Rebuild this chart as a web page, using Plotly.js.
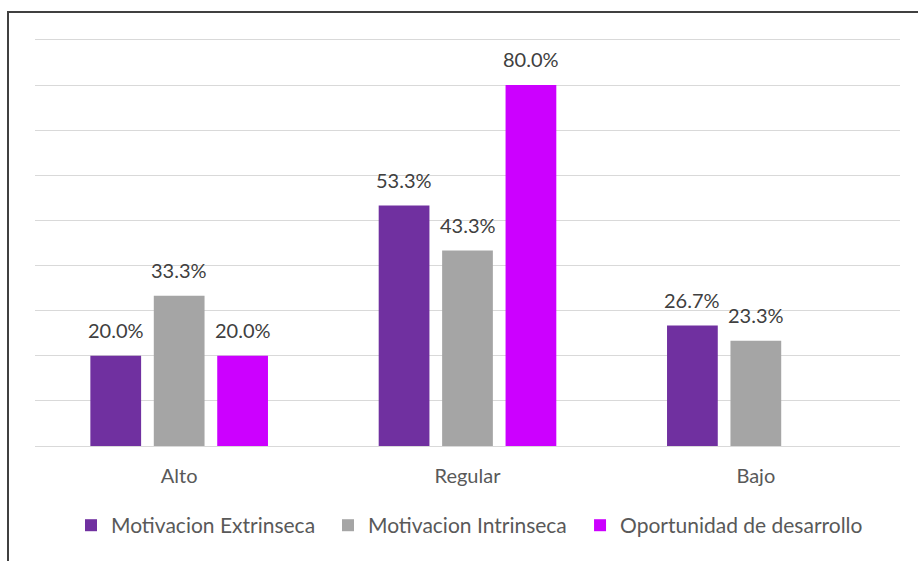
<!DOCTYPE html>
<html>
<head>
<meta charset="utf-8">
<script src="https://cdn.plot.ly/plotly-3.0.1.min.js"></script>
<style>
html,body{margin:0;padding:0;background:#fff;}
#wrap{position:relative;width:918px;height:561px;overflow:hidden;}
#chart{position:absolute;left:0;top:0;width:918px;height:561px;}
#frame{position:absolute;left:7px;top:11px;width:940px;height:600px;border-left:2px solid #404040;border-top:2px solid #404040;pointer-events:none;}
</style>
</head>
<body>
<div id="wrap"><div id="chart"></div><div id="frame"></div></div>
<script>
const categories = ["Alto", "Regular", "Bajo"];
const seriesNames = ["Motivacion Extrinseca", "Motivacion Intrinseca", "Oportunidad de desarrollo"];
const extrinseca = [20.0, 53.3, 26.7];
const intrinseca = [33.3, 43.3, 23.3];
const oportunidad = [20.0, 80.0, null];
const colors = ["#7030A0", "#A5A5A5", "#CC00FF"];

const FONT = "'Lato', sans-serif";
const W = 918, H = 561;
const M = {l: 35, r: 18, t: 38, b: 115};
const BARGAP = 0.34;
const values = [extrinseca, intrinseca, oportunidad];
const legendIds = ["legend", "legend2", "legend3"];
const legendX = [0.0416, 0.3387, 0.6301];

const traces = values.map((v, i) => ({
  type: "bar",
  name: seriesNames[i],
  x: categories,
  y: v,
  marker: {color: colors[i]},
  legend: legendIds[i],
  hoverinfo: "skip"
}));

// data labels as annotations placed over each bar (offset within group)
const catWidthPx = (W - M.l - M.r) / categories.length;
const slotPx = catWidthPx * (1 - BARGAP) / values.length;
const annotations = [];
values.forEach((v, i) => {
  v.forEach((d, j) => {
    if (d == null) return;
    annotations.push({
      x: categories[j], y: d, xref: "x", yref: "y",
      text: d.toFixed(1) + "%",
      showarrow: false, yanchor: "bottom", xanchor: "center",
      xshift: (i - (values.length - 1) / 2) * slotPx,
      yshift: 12,
      font: {family: FONT, size: 20, color: "#404040"}
    });
  });
});

const layout = {
  width: W, height: H,
  margin: M,
  paper_bgcolor: "#fff", plot_bgcolor: "#fff",
  barmode: "group",
  bargap: BARGAP,
  bargroupgap: 0.2,
  font: {family: FONT, color: "#595959", size: 20},
  xaxis: {
    showgrid: false, showline: true, linecolor: "#d9d9d9", linewidth: 1,
    ticks: "", tickfont: {family: FONT, size: 20, color: "#595959"},
    ticklabelstandoff: 12
  },
  yaxis: {
    range: [0, 90.42], dtick: 10, showticklabels: false, showgrid: true,
    gridcolor: "#d9d9d9", gridwidth: 1, zeroline: false, showline: false
  },
  annotations: annotations,
  showlegend: true
};
legendIds.forEach((id, i) => {
  layout[id] = {
    orientation: "h", x: legendX[i], xanchor: "left", y: -0.195, yanchor: "middle",
    font: {family: FONT, size: 21, color: "#595959"},
    itemwidth: 30
  };
});

Plotly.newPlot("chart", traces, layout, {displayModeBar: false, staticPlot: true});
</script>
</body>
</html>
